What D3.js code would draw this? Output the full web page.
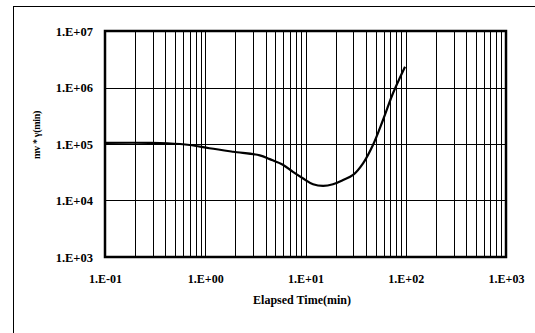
<!DOCTYPE html>
<html>
<head>
<meta charset="utf-8">
<script src="https://cdn.jsdelivr.net/npm/d3@7"></script>
<style>
  body { margin: 0; background: #fff; }
</style>
</head>
<body>
<div id="chart"></div>
<script>
// elapsed time (min) and mv * gamma readings along the curve
const timeValues = [0.1, 0.28, 0.42, 0.7, 1.1, 1.9, 3.5, 4.4, 6.0, 7.5, 9.4, 11.9, 15.0, 18.8, 23.7, 29.8, 37.5, 47.1, 59.3, 74.6, 98.4];
const mvValues = [1.05e5, 1.05e5, 1.03e5, 9.6e4, 8.4e4, 7.3e4, 6.3e4, 5.4e4, 4.25e4, 3.2e4, 2.47e4, 1.94e4, 1.81e4, 1.94e4, 2.31e4, 2.83e4, 4.55e4, 9.6e4, 2.66e5, 7.9e5, 2.33e6];
const xTickValues = [0.1, 1, 10, 100, 1000];
const xTickLabels = ["1.E-01", "1.E+00", "1.E+01", "1.E+02", "1.E+03"];
const yTickValues = [1e3, 1e4, 1e5, 1e6, 1e7];
const yTickLabels = ["1.E+03", "1.E+04", "1.E+05", "1.E+06", "1.E+07"];

const serif = "'Liberation Serif', 'Times New Roman', 'DejaVu Serif', serif";

const width = 535, height = 333;
const margin = { top: 31, right: 29, bottom: 76, left: 105 };
const innerW = width - margin.left - margin.right;
const innerH = height - margin.top - margin.bottom;

const svg = d3.select("#chart").append("svg")
  .attr("width", width)
  .attr("height", height);

// outer chart border (only left and top edges fall inside the picture)
svg.append("rect")
  .attr("x", 13.5).attr("y", 6.5)
  .attr("width", 700).attr("height", 500)
  .attr("fill", "none").attr("stroke", "#000").attr("stroke-width", 1);

const g = svg.append("g")
  .attr("transform", `translate(${margin.left}, ${margin.top})`);

const x = d3.scaleLog().domain([0.1, 1000]).range([0, innerW]);
const y = d3.scaleLog().domain([1e3, 1e7]).range([innerH, 0]);

// vertical grid: every minor step of each decade
const xGrid = x.ticks().filter(v => v > 0.1 && v < 1000);
g.append("g")
  .selectAll("line")
  .data(xGrid)
  .enter().append("line")
  .attr("x1", d => Math.round(x(d)) + 0.5)
  .attr("x2", d => Math.round(x(d)) + 0.5)
  .attr("y1", 0).attr("y2", innerH)
  .attr("stroke", "#000").attr("stroke-width", 1);

// horizontal grid at decades
g.append("g")
  .selectAll("line")
  .data(yTickValues.slice(1, -1))
  .enter().append("line")
  .attr("x1", 0).attr("x2", innerW)
  .attr("y1", d => Math.round(y(d)) + 0.5)
  .attr("y2", d => Math.round(y(d)) + 0.5)
  .attr("stroke", "#000").attr("stroke-width", 1);

// plot frame
g.append("rect")
  .attr("x", 0).attr("y", 0)
  .attr("width", innerW).attr("height", innerH)
  .attr("fill", "none").attr("stroke", "#000").attr("stroke-width", 2.5);

// axes (labels only)
const xAxis = g.append("g")
  .attr("transform", `translate(0, ${innerH})`)
  .call(d3.axisBottom(x).tickValues(xTickValues)
    .tickFormat((d, i) => xTickLabels[i]).tickSize(0).tickPadding(17));
xAxis.select(".domain").remove();
xAxis.attr("font-family", serif).attr("font-size", 12);
xAxis.selectAll("text").attr("font-weight", "bold").attr("fill", "#000");

const yAxis = g.append("g")
  .call(d3.axisLeft(y).tickValues(yTickValues)
    .tickFormat((d, i) => yTickLabels[i]).tickSize(0).tickPadding(12));
yAxis.select(".domain").remove();
yAxis.attr("font-family", serif).attr("font-size", 12.5);
yAxis.selectAll("text").attr("font-weight", "bold").attr("fill", "#000");

// curve
const data = timeValues.map((t, i) => ({ t: t, v: mvValues[i] }));
const line = d3.line()
  .x(d => x(d.t))
  .y(d => y(d.v))
  .curve(d3.curveCatmullRom.alpha(0.5));

g.append("path")
  .attr("d", line(data))
  .attr("fill", "none")
  .attr("stroke", "#000")
  .attr("stroke-width", 2.2);

// axis titles
svg.append("text")
  .attr("x", 302).attr("y", 304)
  .attr("text-anchor", "middle")
  .attr("font-family", serif)
  .attr("font-weight", "bold")
  .attr("font-size", 12)
  .text("Elapsed Time(min)");

svg.append("text")
  .attr("transform", "translate(40, 135) rotate(-90)")
  .attr("text-anchor", "middle")
  .attr("font-family", serif)
  .attr("font-weight", "bold")
  .attr("font-size", 10)
  .attr("letter-spacing", -0.3)
  .text("mv * γ(min)");
</script>
</body>
</html>
